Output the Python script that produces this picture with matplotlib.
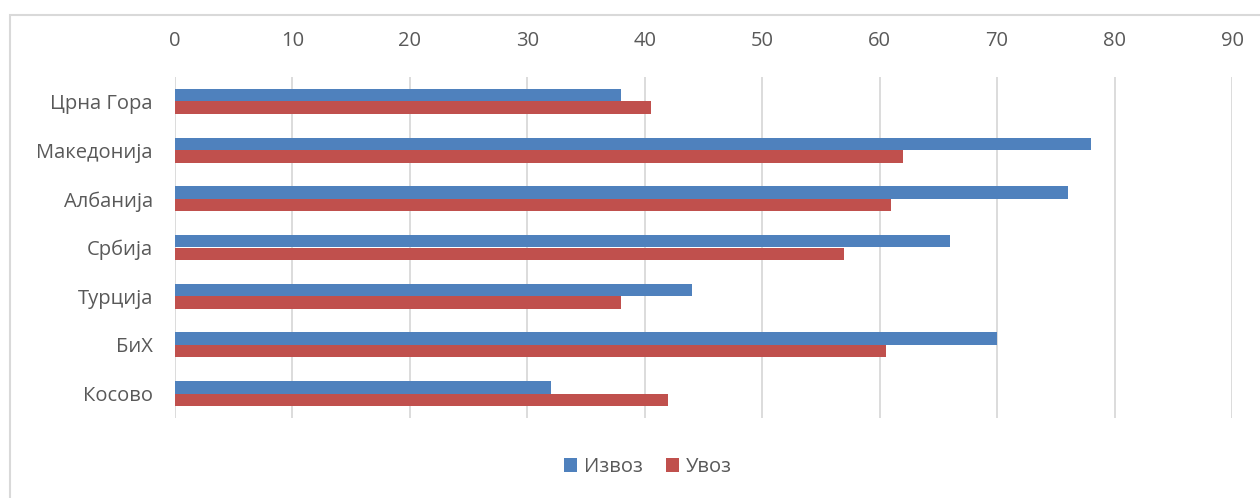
import numpy as np
import matplotlib.pyplot as plt
from matplotlib.patches import Rectangle

countries = ['Црна Гора', 'Македонија', 'Албанија', 'Србија', 'Турција', 'БиХ', 'Косово']
izvoz = [38, 78, 76, 66, 44, 70, 32]
uvoz = [40.5, 62, 61, 57, 38, 60.5, 42]

blue = '#4F81BD'
red = '#C0504D'
grid = '#D9D9D9'
text = '#595959'

plt.rcParams['font.family'] = ['Open Sans', 'DejaVu Sans']

fig = plt.figure(figsize=(12.6, 4.98), dpi=100)
ax = fig.add_axes([175 / 1260, 1 - 418 / 498, (1232 - 175) / 1260, (418 - 77) / 498])

# outer chart frame
fig.patches.append(Rectangle((10 / 1260, -0.1), 1.2, 1 - 15 / 498 + 0.1,
                             transform=fig.transFigure, fill=False,
                             edgecolor=grid, linewidth=1.5))

ind = np.arange(len(countries))
h = 0.257
ax.barh(ind - h / 2, izvoz, h, color=blue, label='Извоз')
ax.barh(ind + h / 2, uvoz, h, color=red, label='Увоз')

ax.set_xlim(0, 90)
ax.set_ylim(len(countries) - 0.5, -0.5)
ax.set_xticks(np.arange(0, 91, 10))
ax.set_yticks(ind)
ax.set_yticklabels(countries)
ax.xaxis.tick_top()
ax.tick_params(axis='both', length=0, labelsize=14.5, colors=text)
ax.tick_params(axis='x', pad=19)
ax.tick_params(axis='y', pad=16)
ax.grid(axis='x', color=grid, linewidth=1.3)
ax.set_axisbelow(True)
for s in ax.spines.values():
    s.set_visible(False)

leg = fig.legend(loc='center', bbox_to_anchor=(648 / 1260, 1 - 467 / 498), ncol=2,
                 frameon=False, fontsize=14.5, handlelength=0.65, handleheight=0.65,
                 handletextpad=0.35, columnspacing=1.1)
for t in leg.get_texts():
    t.set_color(text)

fig.savefig('out.png', dpi=100)
